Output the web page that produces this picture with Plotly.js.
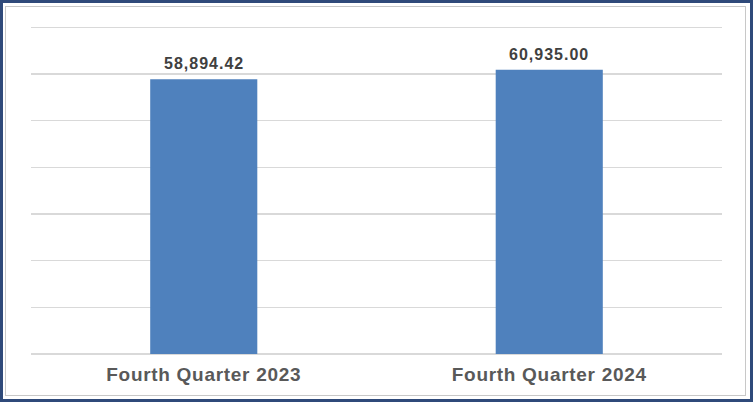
<!DOCTYPE html>
<html>
<head>
<meta charset="utf-8">
<script src="https://cdn.plot.ly/plotly-3.0.1.min.js"></script>
<style>
  html, body { margin: 0; padding: 0; background: #fff; }
  #wrap { position: relative; width: 753px; height: 402px; }
  #chart { position: absolute; left: 0; top: 0; width: 753px; height: 402px; }
  #outer { position: absolute; left: 0; top: 0; width: 753px; height: 402px; box-sizing: border-box;
           border: 3px solid #2f4a7a; pointer-events: none; }
  #inner { position: absolute; left: 5px; top: 6px; width: 741px; height: 390px; box-sizing: border-box;
           border: 1px solid #c8c8c8; pointer-events: none; }
  .xtick text { letter-spacing: 0.7px !important; }
  .annotation-text { letter-spacing: 1px !important; }
</style>
</head>
<body>
<div id="wrap">
  <div id="chart"></div>
  <div id="outer"></div>
  <div id="inner"></div>
</div>
<script>
const categories = ["Fourth Quarter 2023", "Fourth Quarter 2024"];
const values = [58894.42, 60935.00];
const valueLabels = ["58,894.42", "60,935.00"];

const trace = {
  type: "bar",
  x: categories,
  y: values,
  width: 0.31,
  marker: { color: "#4f81bd" },
  hoverinfo: "none"
};

const annotations = categories.map((c, i) => ({
  x: c, y: values[i], xref: "x", yref: "y",
  text: "<b>" + valueLabels[i] + "</b>",
  showarrow: false, yanchor: "bottom", yshift: 5,
  font: { family: "Liberation Sans, Arial, sans-serif", size: 16, color: "#404040" }
}));

const layout = {
  width: 753, height: 402,
  margin: { l: 31, r: 31, t: 26, b: 48 },
  paper_bgcolor: "#ffffff",
  plot_bgcolor: "#ffffff",
  showlegend: false,
  xaxis: {
    type: "category",
    showgrid: false,
    showline: false,
    ticks: "",
    tickfont: { family: "Liberation Sans, Arial, sans-serif", size: 19, color: "#595959", weight: "bold" },
    ticklabelstandoff: 7
  },
  yaxis: {
    range: [0, 70300],
    dtick: 10000,
    showticklabels: false,
    showgrid: true,
    gridcolor: "#d9d9d9",
    gridwidth: 1.3,
    zeroline: true,
    zerolinecolor: "#d9d9d9",
    zerolinewidth: 1.3,
    showline: false,
    ticks: ""
  },
  annotations: annotations
};

Plotly.newPlot("chart", [trace], layout, { displayModeBar: false, staticPlot: true });
</script>
</body>
</html>
